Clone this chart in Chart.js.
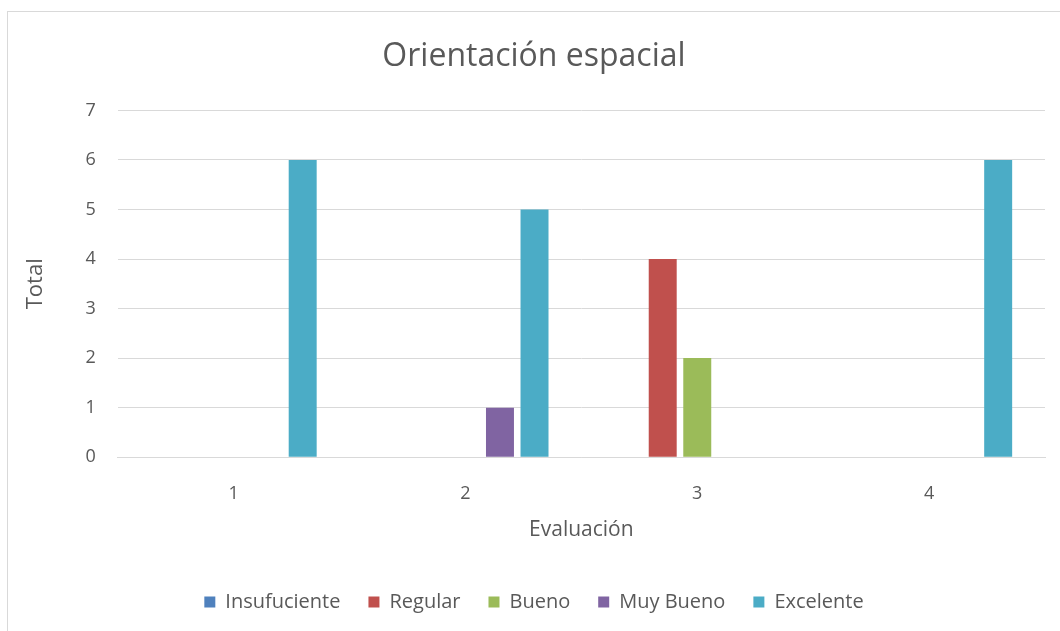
<!DOCTYPE html>
<html lang="es">
<head>
<meta charset="UTF-8">
<title>Orientación espacial</title>
<script src="https://cdn.jsdelivr.net/npm/chart.js@4/dist/chart.umd.min.js"></script>
<style>
  html, body { margin: 0; padding: 0; background: #fff; }
  body { width: 1060px; height: 631px; overflow: hidden; position: relative; }
  .frame { position: absolute; left: 7px; top: 11px; width: 1060px; height: 630px; border: 1px solid #d9d9d9; box-sizing: border-box; }
  .wrap { position: absolute; left: 0; top: 0; width: 1060px; height: 631px; }
</style>
</head>
<body>
<div class="frame"></div>
<div class="wrap"><canvas id="chart"></canvas></div>
<script>
  const categories = ['1', '2', '3', '4'];
  const insufuciente = [0, 0, 0, 0];
  const regular = [0, 0, 4, 0];
  const bueno = [0, 0, 2, 0];
  const muyBueno = [0, 1, 0, 0];
  const excelente = [6, 5, 0, 6];

  const textColor = '#595959';
  const fontFamily = '"Open Sans", "Noto Sans", sans-serif';

  function serie(label, data, color) {
    return {
      label: label,
      data: data,
      backgroundColor: color,
      borderWidth: 0,
      categoryPercentage: 0.745,
      barPercentage: 0.81
    };
  }

  new Chart(document.getElementById('chart'), {
    type: 'bar',
    data: {
      labels: categories,
      datasets: [
        serie('Insufuciente', insufuciente, '#4f81bd'),
        serie('Regular', regular, '#c0504d'),
        serie('Bueno', bueno, '#9bbb59'),
        serie('Muy Bueno', muyBueno, '#8064a2'),
        serie('Excelente', excelente, '#4bacc6')
      ]
    },
    options: {
      responsive: true,
      maintainAspectRatio: false,
      animation: false,
      layout: { padding: { left: 23, right: 15, top: 38, bottom: 9 } },
      plugins: {
        title: {
          display: true,
          text: 'Orientación espacial',
          color: textColor,
          font: { family: fontFamily, size: 32, weight: 'normal' },
          padding: { top: 0, bottom: 34 }
        },
        legend: {
          position: 'bottom',
          labels: {
            color: textColor,
            font: { family: fontFamily, size: 20 },
            boxWidth: 11,
            boxHeight: 11,
            padding: 28
          }
        },
        tooltip: { enabled: false }
      },
      scales: {
        x: {
          grid: { display: false, drawTicks: false },
          border: { color: '#d9d9d9' },
          ticks: { color: textColor, font: { family: fontFamily, size: 18 }, padding: 26 },
          title: {
            display: true,
            text: 'Evaluación',
            color: textColor,
            font: { family: fontFamily, size: 21 },
            padding: { top: -13, bottom: 21 }
          }
        },
        y: {
          min: 0,
          max: 7,
          grid: { color: '#d9d9d9', drawTicks: false },
          border: { display: false },
          ticks: { stepSize: 1, color: textColor, font: { family: fontFamily, size: 18 }, padding: 22 },
          title: {
            display: true,
            text: 'Total',
            color: textColor,
            font: { family: fontFamily, size: 22 },
            padding: { top: 0, bottom: 14 }
          }
        }
      }
    }
  });
</script>
</body>
</html>
